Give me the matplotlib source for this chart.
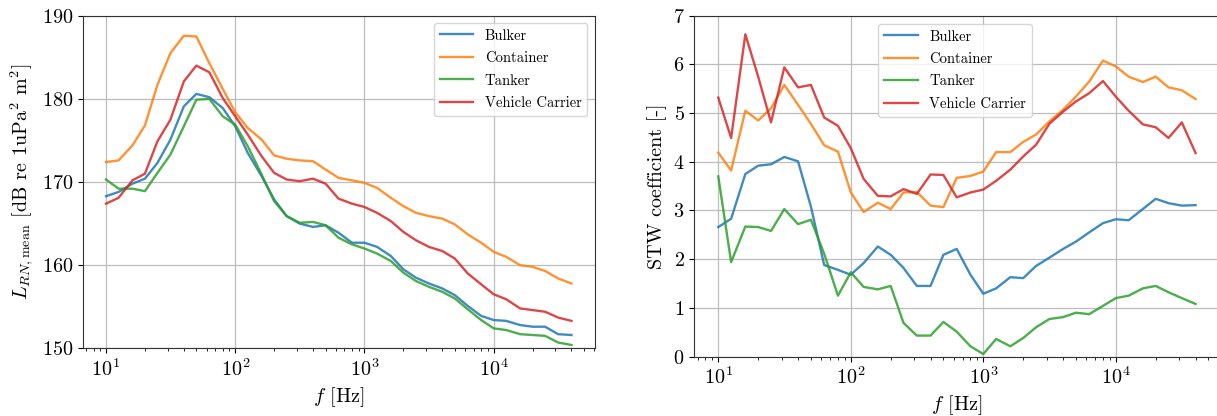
import matplotlib
matplotlib.use("Agg")
import matplotlib.pyplot as plt

plt.rcParams["font.family"] = "serif"
plt.rcParams["font.serif"] = ["cmr10", "DejaVu Serif"]
plt.rcParams["mathtext.fontset"] = "cm"
plt.rcParams["axes.formatter.use_mathtext"] = True

# One-third octave band centre frequencies [Hz]
freq = [10, 12.5, 16, 20, 25, 31.5, 40, 50, 63, 80, 100, 125, 160, 200, 250,
        315, 400, 500, 630, 800, 1000, 1250, 1600, 2000, 2500, 3150, 4000,
        5000, 6300, 8000, 10000, 12500, 16000, 20000, 25000, 31500, 40000]

labels = ["Bulker", "Container", "Tanker", "Vehicle Carrier"]

# Mean radiated noise level [dB re 1uPa^2 m^2]
lrn_bulker = [168.3, 168.8, 169.8, 170.4, 172.3, 175.1, 179.1, 180.6, 180.2, 178.9,
              176.7, 173.5, 170.7, 167.9, 165.9, 165.0, 164.6, 164.8, 163.9, 162.7,
              162.7, 162.2, 161.1, 159.5, 158.5, 157.8, 157.2, 156.4, 155.1, 153.9,
              153.4, 153.3, 152.8, 152.6, 152.6, 151.7, 151.6]
lrn_container = [172.4, 172.6, 174.4, 176.8, 181.7, 185.5, 187.6, 187.5, 184.3, 181.2,
                 178.4, 176.5, 175.1, 173.2, 172.8, 172.6, 172.5, 171.5, 170.5, 170.2,
                 169.9, 169.3, 168.1, 167.1, 166.3, 165.9, 165.6, 164.9, 163.7, 162.7,
                 161.6, 161.0, 160.0, 159.8, 159.3, 158.4, 157.8]
lrn_tanker = [170.3, 169.2, 169.2, 168.9, 171.1, 173.3, 176.7, 179.9, 180.0, 177.9,
              176.9, 174.3, 170.9, 167.7, 165.9, 165.1, 165.2, 164.8, 163.3, 162.5,
              162.0, 161.4, 160.5, 159.1, 158.1, 157.4, 156.8, 156.0, 154.7, 153.4,
              152.4, 152.2, 151.7, 151.6, 151.5, 150.7, 150.4]
lrn_vehicle = [167.4, 168.1, 170.2, 171.0, 174.9, 177.5, 182.1, 184.0, 183.2, 180.1,
               177.9, 175.7, 173.1, 171.1, 170.3, 170.1, 170.4, 169.8, 168.0, 167.4,
               167.0, 166.3, 165.3, 164.0, 163.0, 162.2, 161.7, 160.8, 159.0, 157.7,
               156.5, 155.9, 154.8, 154.6, 154.4, 153.7, 153.3]

# Speed-through-water coefficient [-]
stw_bulker = [2.66, 2.83, 3.75, 3.92, 3.95, 4.10, 4.01, 3.08, 1.88, 1.78,
              1.68, 1.92, 2.26, 2.09, 1.82, 1.45, 1.45, 2.09, 2.21, 1.68,
              1.29, 1.40, 1.63, 1.61, 1.86, 2.03, 2.21, 2.36, 2.55, 2.74,
              2.82, 2.80, 3.03, 3.24, 3.15, 3.10, 3.11]
stw_container = [4.19, 3.82, 5.05, 4.85, 5.10, 5.58, 5.17, 4.78, 4.34, 4.21,
                 3.37, 2.97, 3.16, 3.03, 3.37, 3.38, 3.10, 3.07, 3.67, 3.71,
                 3.80, 4.20, 4.20, 4.41, 4.56, 4.83, 5.07, 5.34, 5.65, 6.08,
                 5.96, 5.75, 5.64, 5.75, 5.53, 5.47, 5.29]
stw_tanker = [3.70, 1.94, 2.67, 2.66, 2.58, 3.03, 2.72, 2.81, 2.11, 1.25,
              1.73, 1.43, 1.38, 1.45, 0.69, 0.43, 0.43, 0.71, 0.51, 0.21,
              0.05, 0.36, 0.21, 0.38, 0.60, 0.77, 0.81, 0.90, 0.87, 1.04,
              1.20, 1.25, 1.40, 1.45, 1.32, 1.20, 1.08]
stw_vehicle = [5.32, 4.49, 6.62, 5.75, 4.81, 5.94, 5.53, 5.58, 4.91, 4.74,
               4.28, 3.65, 3.30, 3.29, 3.44, 3.34, 3.74, 3.73, 3.27, 3.37,
               3.43, 3.61, 3.84, 4.11, 4.35, 4.78, 5.03, 5.24, 5.41, 5.66,
               5.34, 5.05, 4.77, 4.71, 4.49, 4.81, 4.18]

colors = ["#1f77b4", "#ff7f0e", "#2ca02c", "#d62728"]

fig = plt.figure(figsize=(12.17, 4.16), dpi=100)
ax1 = fig.add_axes([0.068, 0.1627, 0.4207, 0.7995])
ax2 = fig.add_axes([0.5706, 0.143, 0.4314, 0.819])

for series, lab, c in zip([lrn_bulker, lrn_container, lrn_tanker, lrn_vehicle], labels, colors):
    ax1.plot(freq, series, color=c, lw=1.7, alpha=0.85, label=lab)
for series, lab, c in zip([stw_bulker, stw_container, stw_tanker, stw_vehicle], labels, colors):
    ax2.plot(freq, series, color=c, lw=1.7, alpha=0.85, label=lab)

for ax in (ax1, ax2):
    ax.set_xscale("log")
    ax.grid(True, which="major", color="#bdbdbd", lw=0.9)
    ax.tick_params(labelsize=14.5)
    ax.set_xlabel(r"$f$ [Hz]", fontsize=14.5)
    for sp in ax.spines.values():
        sp.set_color("#333333")

ax1.set_ylim(150, 190)
ax1.set_yticks([150, 160, 170, 180, 190])
ax1.set_ylabel(r"$L_{RN,\mathrm{mean}}$ [dB re 1uPa$^2$ m$^2$]", fontsize=14.5)
ax2.set_ylim(0, 7)
ax2.set_ylabel("STW coefficient [-]", fontsize=14.5)

leg_kw = dict(fontsize=10.5, handlelength=2.3, labelspacing=0.6)
ax1.legend(loc="upper right", **leg_kw)
ax2.legend(loc="upper left", bbox_to_anchor=(0.35, 0.976), borderaxespad=0, **leg_kw)

fig.savefig("out.png", dpi=100)
